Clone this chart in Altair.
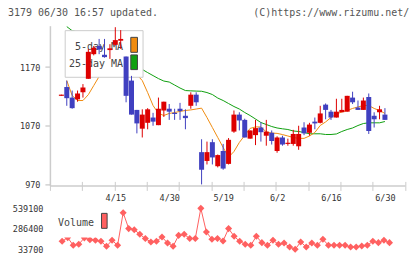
import altair as alt
import pandas as pd

# ---------------- data ----------------
opens = [1121, 1136, 1118, 1115, 1127, 1150, 1192, 1206, 1191, 1199,
         1208, 1215, 1188, 1147, 1097, 1065, 1075, 1084, 1071, 1096,
         1099, 1092, 1099, 1087, 1104, 1123, 1025, 1010, 1042, 1001,
         1027, 1005, 1060, 1089, 1080, 1048, 1054, 1067, 1053, 1058,
         1027, 1050, 1039, 1039, 1035, 1067, 1058, 1077, 1075, 1106,
         1094, 1084, 1093, 1094, 1118, 1101, 1097, 1119, 1087, 1093, 1089]
highs = [1123, 1147, 1130, 1130, 1141, 1201, 1206, 1218, 1218, 1209,
         1238, 1233, 1188, 1155, 1097, 1098, 1100, 1092, 1118, 1111,
         1107, 1099, 1109, 1098, 1127, 1127, 1047, 1043, 1047, 1021,
         1039, 1049, 1096, 1093, 1082, 1062, 1080, 1076, 1080, 1062,
         1052, 1053, 1048, 1063, 1070, 1076, 1075, 1084, 1104, 1108,
         1097, 1116, 1116, 1121, 1128, 1113, 1118, 1125, 1093, 1104, 1100]
lows = [1121, 1104, 1099, 1111, 1118, 1150, 1190, 1192, 1186, 1184,
        1207, 1201, 1110, 1089, 1057, 1050, 1064, 1070, 1071, 1085,
        1080, 1080, 1080, 1064, 1099, 1104, 970, 1004, 1004, 999,
        995, 1004, 1058, 1062, 1050, 1048, 1037, 1043, 1036, 1038,
        1024, 1036, 1036, 1036, 1029, 1054, 1053, 1064, 1074, 1081,
        1080, 1084, 1093, 1094, 1107, 1097, 1097, 1056, 1067, 1081, 1080]
closes = [1123, 1117, 1100, 1125, 1135, 1196, 1203, 1200, 1187, 1202,
          1216, 1218, 1121, 1089, 1074, 1089, 1098, 1077, 1099, 1111,
          1094, 1090, 1095, 1083, 1123, 1110, 995, 1025, 1016, 1020,
          997, 1046, 1089, 1079, 1050, 1062, 1066, 1059, 1060, 1044,
          1050, 1038, 1041, 1056, 1056, 1057, 1072, 1074, 1091, 1097,
          1084, 1094, 1097, 1121, 1110, 1097, 1113, 1061, 1081, 1098, 1080]
volumes = [None, 132000, 178000, 83000, 95000, 175000, 153000, 145000, 132000, 71000,
           145000, 83000, 486000, 289000, 276000, 219000, 166000, 124000, 132000, 185000,
           111000, 71000, 206000, 219000, 166000, 166000, 539100, 247000, 157000, 166000,
           136000, 289000, 194000, 132000, 95000, 83000, 194000, 116000, 83000, 145000,
           95000, 111000, 62000, 33700, 124000, 62000, 111000, 83000, 157000, 83000,
           83000, 83000, 83000, 62000, 62000, 74000, 83000, 132000, 116000, 145000, 116000]
ma5 = [None, 1147, 1121.5, 1113, 1113, 1123, 1138.5, 1154, 1175, 1195,
       1202, 1205, 1195, 1172, 1157, 1147, 1126.5, 1104.5, 1091, 1087.5,
       1091, 1092.5, 1094.5, 1096, 1097, 1098.5, 1100, 1084, 1067, 1050,
       1033, 1016.5, 1026, 1041.5, 1053.5, 1065.5, 1068, 1068, 1059.5, 1057.5,
       1057, 1055, 1052.5, 1050, 1048.5, 1048.5, 1052.5, 1058.5, 1070.5, 1076.5,
       1084, 1090, 1093.5, 1096, 1099.5, 1102, 1104.5, 1104.5, 1099.5, 1096, 1091]
ma25 = [None, 1239, 1232, 1229.8, 1224.8, 1219.7, 1214.6, 1209.5, 1204.4, 1199.4,
        1194.7, 1189.6, 1184.5, 1179.4, 1173, 1166, 1160.6, 1155.5, 1150.4, 1146.2,
        1144.5, 1139.4, 1134.3, 1130, 1129.5, 1129.1, 1128.8, 1126.6, 1123.2, 1117.2,
        1113, 1107.9, 1102.8, 1098.5, 1092.6, 1087.4, 1081.5, 1075.5, 1072.1, 1068.7,
        1066.2, 1064.8, 1063.6, 1061.1, 1060.2, 1058.5, 1056.3, 1056.3, 1056.3, 1055.1,
        1055.1, 1056, 1060.2, 1063.6, 1066.2, 1070.4, 1073.8, 1075, 1075, 1075, 1077.2]

x_tick_index = [10, 20, 30, 40, 50, 60]
x_tick_labels = ["4/15", "4/30", "5/19", "6/2", "6/16", "6/30"]
y_ticks = [970, 1070, 1170]
vol_ticks = [33700, 286400, 539100]
grid_steps = list(range(12))
header_left = "3179 06/30 16:57 updated."
header_right = "(C)https://www.rizumu.net/"
legend_labels = ["5-day MA", "25-day MA"]
vol_label = "Volume"

# ---------------- styling ----------------
MONO = "DejaVu Sans Mono"
RED = "#DD0000"
BLUE = "#4040C0"
ORANGE = "#F08C10"
GREEN = "#10A010"
VOLC = "#FF6060"
W, H_PRICE, H_VOL = 355.7, 160, 53

n = len(opens)
idx = list(range(n))
candles = pd.DataFrame(dict(i=idx, open=opens, high=highs, low=lows, close=closes))
mas = pd.DataFrame(dict(i=idx, ma5=ma5, ma25=ma25))
vol = pd.DataFrame(dict(i=idx, volume=volumes))
one = pd.DataFrame({"k": [0]})

x_scale = alt.Scale(domain=[-1.2, 62.8], nice=False, zero=False)
y_scale = alt.Scale(domain=[968.3, 1240.6], nice=False, zero=False)
v_scale = alt.Scale(domain=[-40262, 613062], nice=False, zero=False)

label_expr = ("[" + ",".join(f"'{s}'" for s in x_tick_labels) + "][indexof(["
              + ",".join(str(v) for v in x_tick_index) + "], datum.value)]")

x_axis = alt.Axis(values=x_tick_index, labelExpr=label_expr, ticks=False, tickSize=0,
                  domain=True, domainColor="#cccccc", domainWidth=1.5, grid=False,
                  title=None, labelFont=MONO, labelFontSize=8.5, labelColor="#333333",
                  labelPadding=8, labelFlush=False, labelOverlap=False)
y_axis = alt.Axis(values=y_ticks, format="d", grid=False, title=None,
                  domainColor="#cccccc", domainWidth=1.5, tickColor="#bbbbbb", tickSize=5,
                  labelFont=MONO, labelFontSize=8.5, labelColor="#333333", labelPadding=5,
                  labelFlush=False)

X = alt.X("i:Q", scale=x_scale, axis=x_axis)
color = alt.condition("datum.close >= datum.open", alt.value(RED), alt.value(BLUE))

ma25_line = alt.Chart(mas).mark_line(color=GREEN, strokeWidth=1, clip=True).encode(
    x=X, y=alt.Y("ma25:Q", scale=y_scale, axis=y_axis))
ma5_line = alt.Chart(mas).mark_line(color=ORANGE, strokeWidth=1, clip=True).encode(
    x=X, y=alt.Y("ma5:Q", scale=y_scale, axis=y_axis))

leg_box = alt.Chart(one).mark_rect(fill="white", stroke="#cccccc", strokeWidth=1).encode(
    x=alt.value(15.3), x2=alt.value(93.3), y=alt.value(5), y2=alt.value(51.7))
leg_t1 = alt.Chart(one).mark_text(align="right", baseline="middle", font=MONO,
                                  fontSize=10, color="#444444").encode(
    x=alt.value(73.3), y=alt.value(21), text=alt.value(legend_labels[0]))
leg_t2 = alt.Chart(one).mark_text(align="right", baseline="middle", font=MONO,
                                  fontSize=10, color="#444444").encode(
    x=alt.value(73.3), y=alt.value(38.5), text=alt.value(legend_labels[1]))
leg_s1 = alt.Chart(one).mark_rect(fill=ORANGE, stroke="#444444", strokeWidth=1).encode(
    x=alt.value(81), x2=alt.value(87.7), y=alt.value(11.7), y2=alt.value(26.7))
leg_s2 = alt.Chart(one).mark_rect(fill=GREEN, stroke="#444444", strokeWidth=1).encode(
    x=alt.value(81), x2=alt.value(87.7), y=alt.value(29.3), y2=alt.value(44))

wicks = alt.Chart(candles).mark_rule(strokeWidth=1).encode(
    x=X, y=alt.Y("low:Q", scale=y_scale, axis=y_axis), y2="high:Q", color=color)
bodies = alt.Chart(candles).mark_bar(size=5).encode(
    x=X, y=alt.Y("open:Q", scale=y_scale, axis=y_axis), y2="close:Q", color=color)

hdr_l = alt.Chart(one).mark_text(align="left", baseline="middle", font=MONO,
                                 fontSize=10, color="#555555").encode(
    x=alt.value(-42), y=alt.value(-12.5), text=alt.value(header_left))
hdr_r = alt.Chart(one).mark_text(align="right", baseline="middle", font=MONO,
                                 fontSize=10, color="#555555").encode(
    x=alt.value(360), y=alt.value(-12.5), text=alt.value(header_right))

grid = alt.Chart(pd.DataFrame({"g": grid_steps})).mark_point(opacity=0).encode(
    x=alt.X("g:Q", scale=alt.Scale(domain=[0, 11], nice=False, zero=False),
            axis=alt.Axis(values=grid_steps, orient="bottom", offset=-4, tickSize=9,
                          tickColor="#cccccc", tickWidth=1, labels=False, domain=False,
                          grid=False, title=None)))

top_inner = alt.layer(ma25_line, ma5_line, leg_box, leg_t1, leg_t2, leg_s1, leg_s2,
                      wicks, bodies, hdr_l, hdr_r)
top = alt.layer(top_inner, grid).resolve_scale(x="independent").properties(
    width=W, height=H_PRICE)

v_axis = alt.Axis(values=vol_ticks, format="d", domain=False, ticks=False, tickSize=0,
                  grid=False, title=None, labelFont=MONO, labelFontSize=8.5,
                  labelColor="#333333", labelPadding=7, labelFlush=False)
VX = alt.X("i:Q", scale=x_scale, axis=None)
vline = alt.Chart(vol).mark_line(color=VOLC, strokeWidth=1).encode(
    x=VX, y=alt.Y("volume:Q", scale=v_scale, axis=v_axis))
vpts = alt.Chart(vol).mark_point(shape="diamond", filled=True, size=50, color=VOLC,
                                 opacity=1).encode(
    x=VX, y=alt.Y("volume:Q", scale=v_scale, axis=v_axis))
vleg_box = alt.Chart(one).mark_rect(fill="white").encode(
    x=alt.value(4), x2=alt.value(60), y=alt.value(9), y2=alt.value(35.3))
vleg_t = alt.Chart(one).mark_text(align="left", baseline="middle", font=MONO,
                                  fontSize=10, color="#444444").encode(
    x=alt.value(8), y=alt.value(20.5), text=alt.value(vol_label))
vleg_s = alt.Chart(one).mark_rect(fill=VOLC, stroke="#444444", strokeWidth=1).encode(
    x=alt.value(51.7), x2=alt.value(57.3), y=alt.value(11), y2=alt.value(26))
vol_chart = alt.layer(vline, vpts, vleg_box, vleg_t, vleg_s).properties(
    width=W, height=H_VOL)

chart = alt.vconcat(top, vol_chart, spacing=17, bounds="flush",
                    padding={"left": 8, "top": 7.5, "right": 10, "bottom": 4}
                    ).configure_view(stroke=None)

chart.save("out.html", embed_options={"renderer": "svg", "actions": False})
